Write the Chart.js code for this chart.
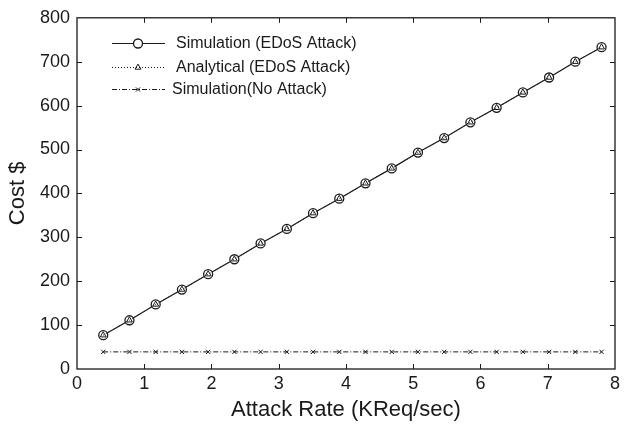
<!DOCTYPE html>
<html>
<head>
<meta charset="utf-8">
<script src="https://cdn.jsdelivr.net/npm/chart.js@4/dist/chart.umd.min.js"></script>
<style>
  html, body { margin: 0; padding: 0; background: #fff; }
  #wrap { width: 624px; height: 428px; }
</style>
</head>
<body>
<div id="wrap"><canvas id="myChart" width="624" height="428"></canvas></div>
<script>
// values
let attackRate = [0.39, 0.78, 1.17, 1.56, 1.95, 2.34, 2.73, 3.12, 3.51, 3.90,
                  4.29, 4.68, 5.07, 5.46, 5.85, 6.24, 6.63, 7.02, 7.41, 7.80];
let simEdos = [77, 111, 147, 181, 216, 250, 286, 319, 355, 388,
               423, 457, 493, 526, 562, 595, 630, 664, 700, 733];
let anaEdos = [77, 111, 147, 181, 216, 250, 286, 319, 355, 388,
               423, 457, 493, 526, 562, 595, 630, 664, 700, 733];
let simNoAttack = [39, 39, 39, 39, 39, 39, 39, 39, 39, 39,
                   39, 39, 39, 39, 39, 39, 39, 39, 39, 39];
let xTicks = [0, 1, 2, 3, 4, 5, 6, 7, 8];
let yTicks = [0, 100, 200, 300, 400, 500, 600, 700, 800];

let ink = '#1a1a1a';
let fam = '"Liberation Sans", Arial, Helvetica, sans-serif';

function pts(vals){
    let out = [];
    for(i=0; i<vals.length; i++){
        out.push({x: attackRate[i], y: vals[i]});
    }
    return out;
}

// frame + inward ticks on all four sides
const framePlugin = {
    id: 'frame',
    afterDraw(chart){
        const ctx = chart.ctx;
        const a = chart.chartArea;
        const sx = chart.scales.x, sy = chart.scales.y;
        ctx.save();
        ctx.strokeStyle = ink;
        ctx.lineWidth = 1.3;
        ctx.strokeRect(a.left, a.top, a.right - a.left, a.bottom - a.top);
        ctx.lineWidth = 1;
        ctx.beginPath();
        for(i=1; i<xTicks.length-1; i++){
            let px = Math.round(sx.getPixelForValue(xTicks[i])) + 0.5;
            ctx.moveTo(px, a.bottom); ctx.lineTo(px, a.bottom - 5);
            ctx.moveTo(px, a.top); ctx.lineTo(px, a.top + 5);
        }
        for(i=1; i<yTicks.length-1; i++){
            let py = Math.round(sy.getPixelForValue(yTicks[i])) + 0.5;
            ctx.moveTo(a.left, py); ctx.lineTo(a.left + 5, py);
            ctx.moveTo(a.right, py); ctx.lineTo(a.right - 5, py);
        }
        ctx.stroke();
        ctx.restore();
    }
};

// legend: line sample with marker, no box
const legendPlugin = {
    id: 'lineLegend',
    afterDraw(chart){
        const ctx = chart.ctx;
        const rows = [43, 67, 89];
        const textX = [176, 176, 172];
        ctx.save();
        ctx.font = '16px ' + fam;
        ctx.textBaseline = 'middle';
        chart.data.datasets.forEach(function(ds, k){
            let y = rows[k] + 0.5;
            ctx.strokeStyle = ink;
            ctx.lineWidth = ds.borderWidth;
            ctx.setLineDash(ds.borderDash || []);
            ctx.beginPath();
            ctx.moveTo(112, y); ctx.lineTo(165, y);
            ctx.stroke();
            ctx.setLineDash([]);
            ctx.fillStyle = ds.pointBackgroundColor || 'rgba(0,0,0,0)';
            ctx.lineWidth = ds.pointBorderWidth;
            Chart.helpers.drawPoint(ctx, {
                pointStyle: ds.pointStyle,
                radius: ds.pointRadius,
                rotation: 0,
                borderWidth: ds.pointBorderWidth
            }, 138, y);
            ctx.fillStyle = ink;
            ctx.fillText(ds.label, textX[k], y);
        });
        ctx.restore();
    }
};

const ctx = document.getElementById('myChart').getContext('2d');
const myChart = new Chart(ctx, {
    type: 'line',
    data: {
        datasets: [{
            label: 'Simulation (EDoS Attack)',
            data: pts(simEdos),
            borderColor: ink,
            borderWidth: 1.2,
            pointStyle: 'circle',
            pointRadius: 4.5,
            pointBorderWidth: 1.3,
            pointBorderColor: ink,
            pointBackgroundColor: '#fff',
            order: 2
        }, {
            label: 'Analytical (EDoS Attack)',
            data: pts(anaEdos),
            borderColor: ink,
            borderWidth: 1,
            borderDash: [1, 2],
            pointStyle: 'triangle',
            pointRadius: 3.4,
            pointBorderWidth: 1,
            pointBorderColor: ink,
            pointBackgroundColor: 'rgba(0,0,0,0)',
            order: 1
        }, {
            label: 'Simulation(No Attack)',
            data: pts(simNoAttack),
            borderColor: ink,
            borderWidth: 1,
            borderDash: [5, 2, 1, 2],
            pointStyle: 'crossRot',
            pointRadius: 3,
            pointBorderWidth: 1,
            pointBorderColor: ink,
            pointBackgroundColor: 'rgba(0,0,0,0)',
            order: 3
        }]
    },
    options: {
        responsive: false,
        animation: false,
        layout: { padding: { top: 17, right: 5, left: 0, bottom: 0 } },
        plugins: {
            legend: { display: false },
            tooltip: { enabled: false }
        },
        elements: { line: { tension: 0 } },
        scales: {
            x: {
                type: 'linear',
                min: 0,
                max: 8,
                afterFit: function(s){ s.height = 59; },
                afterBuildTicks: function(s){ s.ticks = xTicks.map(v => ({value: v})); },
                grid: { display: false, drawTicks: false },
                border: { display: false },
                ticks: { color: ink, padding: 4, font: { family: fam, size: 18 } },
                title: {
                    display: true,
                    text: 'Attack Rate (KReq/sec)',
                    color: ink,
                    padding: { top: 0, bottom: 5 },
                    font: { family: fam, size: 22 }
                }
            },
            y: {
                type: 'linear',
                min: 0,
                max: 800,
                afterFit: function(s){ s.width = 77; },
                afterBuildTicks: function(s){ s.ticks = yTicks.map(v => ({value: v})); },
                grid: { display: false, drawTicks: false },
                border: { display: false },
                ticks: { color: ink, padding: 7, font: { family: fam, size: 18 } },
                title: {
                    display: true,
                    text: 'Cost $',
                    color: ink,
                    padding: { top: 5, bottom: 0 },
                    font: { family: fam, size: 22 }
                }
            }
        }
    },
    plugins: [framePlugin, legendPlugin]
});
</script>
</body>
</html>
